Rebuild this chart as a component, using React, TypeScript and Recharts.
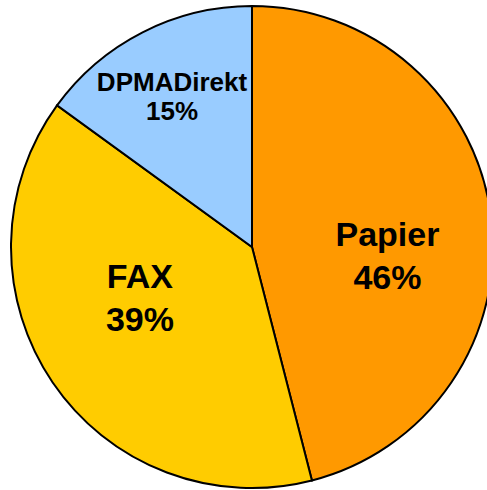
import React from 'react';
import { PieChart, Pie, Cell } from 'recharts';

const categories = ['Papier', 'FAX', 'DPMADirekt'];
const shares = [46, 39, 15];
const colors = ['#FF9900', '#FFCC00', '#99CCFF'];

const data = categories.map((name, i) => ({ name, value: shares[i] }));

// label anchor (first baseline) as fraction of the radius, relative to pie centre
const LABEL_LAYOUT: Record<string, { dx: number; dy: number; size: number; gap: number }> = {
  Papier: { dx: 0.562, dy: -0.004, size: 34, gap: 43 },
  FAX: { dx: -0.465, dy: 0.17, size: 34, gap: 43 },
  DPMADirekt: { dx: -0.332, dy: -0.647, size: 26, gap: 29 }
};

const FONT = '"Liberation Sans", Arial, Helvetica, sans-serif';

function SliceLabel(props: any) {
  const { cx, cy, outerRadius, percent } = props;
  const name = props.name ?? props.payload?.name;
  const l = LABEL_LAYOUT[name];
  if (!l) return null;
  const x = cx + l.dx * outerRadius;
  const y = cy + l.dy * outerRadius;
  return (
    <text
      x={x}
      y={y}
      textAnchor="middle"
      fill="#000"
      fontFamily={FONT}
      fontWeight="bold"
      fontSize={l.size}
    >
      <tspan x={x} y={y}>{name}</tspan>
      <tspan x={x} y={y + l.gap}>{Math.round(percent * 100)}%</tspan>
    </text>
  );
}

export default function App() {
  return (
    <div style={{ position: 'absolute', left: 0, top: 0, width: 487, height: 490, background: '#fff' }}>
      <PieChart width={487} height={490} margin={{ top: 0, right: 0, bottom: 0, left: 0 }}>
        <Pie
          data={data}
          dataKey="value"
          nameKey="name"
          cx={252}
          cy={247}
          outerRadius={241}
          startAngle={90}
          endAngle={-270}
          stroke="#000"
          strokeWidth={2}
          label={SliceLabel}
          labelLine={false}
          isAnimationActive={false}
        >
          {data.map((d, i) => (
            <Cell key={d.name} fill={colors[i]} stroke="#000" strokeWidth={2} />
          ))}
        </Pie>
      </PieChart>
    </div>
  );
}
